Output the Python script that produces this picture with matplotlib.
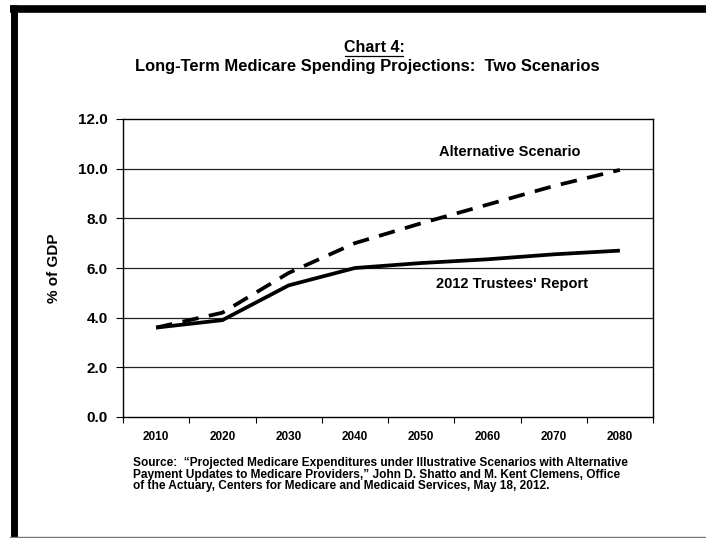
import matplotlib
matplotlib.use("Agg")
import matplotlib.pyplot as plt
from matplotlib.lines import Line2D
import numpy as np

# Medicare spending as % of GDP
years = ["2010", "2020", "2030", "2040", "2050", "2060", "2070", "2080"]
trustees = [3.6, 3.9, 5.3, 6.0, 6.2, 6.35, 6.55, 6.7]
alternative = [3.6, 4.2, 5.8, 7.0, 7.8, 8.55, 9.3, 9.95]
y_ticks = [0.0, 2.0, 4.0, 6.0, 8.0, 10.0, 12.0]

source_text = ("Source:  \u201cProjected Medicare Expenditures under Illustrative Scenarios with Alternative\n"
               "Payment Updates to Medicare Providers,\u201d John D. Shatto and M. Kent Clemens, Office\n"
               "of the Actuary, Centers for Medicare and Medicaid Services, May 18, 2012.")

plt.rcParams["font.family"] = ["Liberation Sans", "DejaVu Sans"]
plt.rcParams["font.weight"] = "bold"

W, H = 706, 538
fig = plt.figure(figsize=(W / 100, H / 100), dpi=100)

def fx(px):
    return px / W

def fy(py):
    return 1 - py / H

ax = fig.add_axes([fx(123), fy(417), fx(653) - fx(123), fy(119) - fy(417)])

x = np.arange(len(years))
ax.plot(x, trustees, color="black", lw=2.7, solid_capstyle="butt", zorder=3)
ax.plot(x, alternative, color="black", lw=2.7, dashes=(4.4, 2.8), zorder=3)

ax.set_xlim(-0.5, len(years) - 0.5)
ax.set_ylim(0, 12)
ax.set_yticks(y_ticks)
ax.set_yticklabels([f"{v:.1f}" for v in y_ticks], fontsize=11, fontweight="bold")
for v in y_ticks[1:-1]:
    ax.axhline(v, color="#222222", lw=0.9, zorder=1)

# category axis: ticks between categories, labels centred on them
ax.set_xticks(np.arange(len(years) + 1) - 0.5)
ax.set_xticklabels([])
ax.set_xticks(x, minor=True)
ax.set_xticklabels(years, minor=True, fontsize=8.5, fontweight="bold")
ax.tick_params(axis="x", which="minor", length=0, pad=10)
ax.tick_params(axis="x", which="major", length=4, width=0.8, direction="out")
ax.tick_params(axis="y", length=5, width=0.8, direction="out", pad=6)
for s in ax.spines.values():
    s.set_linewidth(1.0)
    s.set_color("black")

ax.set_ylabel("% of GDP", fontsize=11, fontweight="bold", labelpad=12)

ax.text(5.34, 10.68, "Alternative Scenario", ha="center", va="center",
        fontsize=10.5, fontweight="bold")
ax.text(5.37, 5.36, "2012 Trustees' Report", ha="center", va="center",
        fontsize=10.5, fontweight="bold")

fig.text(fx(374), fy(47), "Chart 4:", ha="center", va="center",
         fontsize=11.5, fontweight="bold")
fig.add_artist(Line2D([fx(345), fx(403)], [fy(56), fy(56)], color="black", lw=0.9))
fig.text(fx(367), fy(67), "Long-Term Medicare Spending Projections:  Two Scenarios",
         ha="center", va="center", fontsize=11.9, fontweight="bold")

fig.text(fx(133), fy(457), source_text, ha="left", va="top", fontsize=8.6,
         fontweight="bold", linespacing=0.95)

# page frame
fig.add_artist(Line2D([fx(13.5), fx(13.5)], [fy(5), 0], color="black", lw=5, solid_capstyle="butt"))
fig.add_artist(Line2D([fx(10), 1], [fy(8.5), fy(8.5)], color="black", lw=5.5, solid_capstyle="butt"))
fig.add_artist(Line2D([fx(10), 1], [fy(536.5), fy(536.5)], color="#777777", lw=1))

fig.savefig("out.png", dpi=100)
